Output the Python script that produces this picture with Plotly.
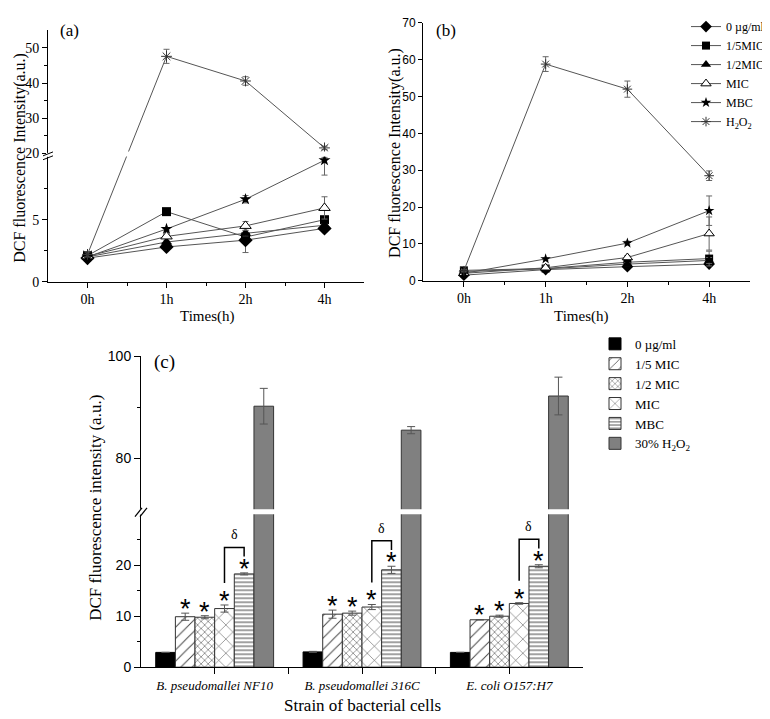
import plotly.graph_objects as go

W, H = 770, 719
SERIF = "Liberation Serif, Times New Roman, Times, serif"
SANS = "Liberation Sans, Arial, sans-serif"

# ---------------- data ----------------
times = ["0h", "1h", "2h", "4h"]
line_names = ["0 µg/ml", "1/5MIC", "1/2MIC", "MIC", "MBC", "H<sub>2</sub>O<sub>2</sub>"]

# panel (a)
a_ctrl = [1.9, 2.8, 3.35, 4.3]
a_ctrl_err = [0.1, 0.12, 1.0, 0.12]
a_fifth = [2.1, 5.65, 3.6, 5.0]
a_fifth_err = [0.1, 0.25, 0.1, 0.15]
a_half = [2.0, 3.2, 3.9, 4.55]
a_half_err = [0.1, 0.1, 0.2, 0.1]
a_mic = [2.05, 3.65, 4.5, 5.95]
a_mic_err = [0.1, 0.15, 0.35, 0.9]
a_mbc = [2.0, 4.25, 6.65, 9.8]
a_mbc_err = [0.1, 0.1, 0.3, 1.2]
a_h2o2 = [2.2, 47.6, 40.6, 21.6]
a_h2o2_err = [0.2, 2.0, 1.2, 0.5]

# panel (b)
b_ctrl = [1.5, 3.0, 3.8, 4.5]
b_ctrl_err = [0.2, 0.3, 0.4, 0.5]
b_fifth = [2.8, 3.3, 5.0, 6.0]
b_fifth_err = [0.3, 0.3, 0.5, 2.0]
b_half = [2.5, 3.2, 4.5, 5.5]
b_half_err = [0.2, 0.3, 0.4, 0.8]
b_mic = [2.0, 3.5, 6.3, 12.8]
b_mic_err = [0.2, 0.5, 0.5, 4.5]
b_mbc = [2.0, 5.9, 10.2, 19.0]
b_mbc_err = [0.2, 0.3, 0.5, 4.0]
b_h2o2 = [2.7, 58.8, 52.0, 28.5]
b_h2o2_err = [0.3, 2.0, 2.2, 1.3]

# panel (c)
strains = ["B. pseudomallei NF10", "B. pseudomallei 316C", "E. coli O157:H7"]
bar_names = ["0 µg/ml", "1/5 MIC", "1/2 MIC", "MIC", "MBC", "30% H<sub>2</sub>O<sub>2</sub>"]
c_ctrl = [2.9, 3.0, 2.9]
c_ctrl_err = [0.0, 0.1, 0.0]
c_fifth = [9.9, 10.4, 9.3]
c_fifth_err = [0.7, 0.8, 0.05]
c_half = [9.8, 10.6, 10.0]
c_half_err = [0.3, 0.4, 0.2]
c_mic = [11.5, 11.8, 12.5]
c_mic_err = [0.7, 0.5, 0.15]
c_mbc = [18.3, 19.1, 19.8]
c_mbc_err = [0.2, 0.7, 0.3]
c_h2o2 = [90.2, 85.5, 92.2]
c_h2o2_err = [3.5, 0.7, 3.7]

# ---------------- broken-axis transforms ----------------
A_UP0, A_K = 10.34, 0.2842


def ta(v):
    if v <= 10:
        return v
    if v >= 20:
        return A_UP0 + (v - 20) * A_K
    return 10 + (v - 10) * (A_UP0 - 10) / 10


C_UP0 = 31.0


def tc(v):
    if v <= 30:
        return v
    if v >= 70:
        return C_UP0 + (v - 70)
    return 30 + (v - 30) * (C_UP0 - 30) / 40


def disp(t, vals, errs):
    y = [t(v) for v in vals]
    plus = [t(v + e) - t(v) for v, e in zip(vals, errs)]
    minus = [t(v) - t(v - e) for v, e in zip(vals, errs)]
    return y, plus, minus


def px(x):
    return x / W


def py(y):
    return 1 - y / H


fig = go.Figure()

xi = list(range(len(times)))

marker_specs = [
    dict(symbol="diamond", color="black"),
    dict(symbol="square", color="black"),
    dict(symbol="triangle-up", color="black"),
    dict(symbol="triangle-up", color="white", line=dict(color="black", width=1)),
    dict(symbol="star", color="black"),
    dict(symbol="asterisk-open", color="#333", line=dict(color="#333", width=1)),
]
a_sizes = [11, 9, 10, 10, 9, 9]
b_sizes = [9, 8, 9, 9, 8, 8]

a_series = [(a_ctrl, a_ctrl_err), (a_fifth, a_fifth_err), (a_half, a_half_err),
            (a_mic, a_mic_err), (a_mbc, a_mbc_err), (a_h2o2, a_h2o2_err)]
b_series = [(b_ctrl, b_ctrl_err), (b_fifth, b_fifth_err), (b_half, b_half_err),
            (b_mic, b_mic_err), (b_mbc, b_mbc_err), (b_h2o2, b_h2o2_err)]

for k, (vals, errs) in enumerate(a_series):
    y, p, m = disp(ta, vals, errs)
    mk = dict(marker_specs[k])
    mk["size"] = a_sizes[k]
    fig.add_trace(go.Scatter(
        x=xi, y=y, mode="lines+markers", xaxis="x", yaxis="y",
        line=dict(color="#555", width=1), marker=mk, showlegend=False,
        error_y=dict(type="data", array=p, arrayminus=m, color="#666", thickness=1, width=3),
        cliponaxis=False,
    ))

for k, (vals, errs) in enumerate(b_series):
    mk = dict(marker_specs[k])
    mk["size"] = b_sizes[k]
    fig.add_trace(go.Scatter(
        x=xi, y=vals, mode="lines+markers", xaxis="x2", yaxis="y2",
        name=line_names[k], legend="legend",
        line=dict(color="#555", width=1), marker=mk,
        error_y=dict(type="data", array=errs, color="#666", thickness=1, width=3),
        cliponaxis=False,
    ))

# ---- panel (c) bars ----
c_series = [(c_ctrl, c_ctrl_err), (c_fifth, c_fifth_err), (c_half, c_half_err),
            (c_mic, c_mic_err), (c_mbc, c_mbc_err), (c_h2o2, c_h2o2_err)]
bar_styles = [
    dict(color="black", line=dict(color="black", width=1)),
    dict(color="white", line=dict(color="#333", width=1),
         pattern=dict(shape="/", fgcolor="#444", bgcolor="white", size=8, solidity=0.12, fillmode="replace")),
    dict(color="white", line=dict(color="#333", width=1),
         pattern=dict(shape="x", fgcolor="#444", bgcolor="white", size=5, solidity=0.2, fillmode="replace")),
    dict(color="white", line=dict(color="#333", width=1),
         pattern=dict(shape="x", fgcolor="#444", bgcolor="white", size=10, solidity=0.1, fillmode="replace")),
    dict(color="white", line=dict(color="#333", width=1),
         pattern=dict(shape="-", fgcolor="#444", bgcolor="white", size=4, solidity=0.25, fillmode="replace")),
    dict(color="#808080", line=dict(color="#333", width=1)),
]
gi = list(range(len(strains)))
for k, (vals, errs) in enumerate(c_series):
    y, p, m = disp(tc, vals, errs)
    fig.add_trace(go.Bar(
        x=gi, y=y, xaxis="x3", yaxis="y3", name=bar_names[k], legend="legend2",
        marker=bar_styles[k],
        error_y=dict(type="data", array=p, arrayminus=m, color="#555", thickness=1, width=4),
    ))

NB = len(c_series)
BW = 0.8 / NB


def off(i):
    return -0.4 + (i + 0.5) * BW


annotations = []
shapes = []

# stars
for i in [1, 2, 3, 4]:
    vals, errs = c_series[i]
    for g in gi:
        annotations.append(dict(
            x=g + off(i), y=tc(vals[g] + errs[g]) + 2.0, xref="x3", yref="y3",
            text="*", showarrow=False, yanchor="middle", yshift=-6,
            font=dict(family=SANS, size=27, color="black")))

# delta brackets
for g in gi:
    xl, xr = g + off(3), g + off(4)
    mic_top = c_mic[g] + c_mic_err[g]
    mbc_top = c_mbc[g] + c_mbc_err[g]
    ytop = mbc_top + 5.0
    yl = mic_top + 4.3
    yr = mbc_top + 3.2
    shapes.append(dict(type="path", xref="x3", yref="y3",
                       path=f"M{xl},{yl} L{xl},{ytop} L{xr},{ytop} L{xr},{yr}",
                       line=dict(color="black", width=1.5)))
    annotations.append(dict(x=(xl + xr) / 2, y=ytop + 0.6, xref="x3", yref="y3",
                            text="δ", showarrow=False, yanchor="bottom",
                            font=dict(family=SERIF, size=14, color="black")))

# break gaps
shapes.append(dict(type="rect", xref="x domain", yref="y", x0=0.006, x1=1.0,
                   y0=10.1, y1=10.5, fillcolor="white", line=dict(width=0), layer="above"))
shapes.append(dict(type="rect", xref="x3 domain", yref="y3", x0=0.004, x1=1.0,
                   y0=30.0, y1=C_UP0, fillcolor="white", line=dict(width=0), layer="above"))

# axis break marks (a)
shapes.append(dict(type="rect", xref="paper", yref="paper", x0=px(38), x1=px(42),
                   y0=py(144), y1=py(140), fillcolor="white", line=dict(width=0), layer="above"))
for dy in (0, 4):
    shapes.append(dict(type="line", xref="paper", yref="paper",
                       x0=px(35), y0=py(143 + dy), x1=px(45), y1=py(139 + dy),
                       line=dict(color="black", width=1), layer="above"))
# axis break marks (c)
shapes.append(dict(type="rect", xref="paper", yref="paper", x0=px(131), x1=px(135),
                   y0=py(510), y1=py(504), fillcolor="white", line=dict(width=0), layer="above"))
for dx in (0, 5):
    shapes.append(dict(type="line", xref="paper", yref="paper",
                       x0=px(127 + dx), y0=py(512), x1=px(134 + dx), y1=py(503),
                       line=dict(color="black", width=1.2), layer="above"))


def ann(x, y, text, size, family=SERIF, angle=0, **kw):
    d = dict(x=px(x), y=py(y), xref="paper", yref="paper", text=text, showarrow=False,
             font=dict(family=family, size=size, color="black"), textangle=angle,
             xanchor="center", yanchor="middle")
    d.update(kw)
    annotations.append(d)


ann(61, 15, "(a)", 17)
ann(438, 15, "(b)", 17)
ann(156, 354, "(c)", 19)
ann(199, 307, "Times(h)", 15)
ann(573, 307, "Times(h)", 15)
ann(12, 145, "DCF fluorescence Intensity(a.u.)", 16, angle=-90)
ann(387, 140, "DCF fluorescence Intensity(a.u.)", 16, angle=-90)
ann(88, 503, "DCF fluorescence intensity (a.u.)", 17, angle=-90)
ann(354, 705, "Strain of bacterial cells", 17)

axis_common = dict(showline=True, linecolor="black", linewidth=1, showgrid=False,
                   zeroline=False, ticks="outside", tickcolor="black", tickwidth=1)

a_major = [0, 5, 20, 30, 40, 50]
a_minor = [2.5, 7.5, 25, 35, 45]
c_major = [0, 10, 20, 80, 100]
c_minor = [5, 15, 25, 90]

fig.update_layout(
    width=W, height=H, margin=dict(l=0, r=0, t=0, b=0),
    paper_bgcolor="white", plot_bgcolor="white",
    font=dict(family=SERIF, color="black"),
    barmode="group", bargap=0.2, bargroupgap=0,
    xaxis=dict(**axis_common, domain=[px(40), px(356)], range=[-0.5, 3.5], anchor="y",
               tickvals=xi, ticktext=times, ticklen=5,
               tickfont=dict(family=SERIF, size=14, color="black"),
               minor=dict(tickvals=[0.5, 1.5, 2.5], ticks="outside", ticklen=3, tickcolor="black")),
    yaxis=dict(**axis_common, domain=[py(271.7), py(14.6)], range=[0, ta(55)], anchor="x",
               tickvals=[ta(v) for v in a_major], ticktext=[str(v) for v in a_major], ticklen=5,
               tickfont=dict(family=SERIF, size=14, color="black"),
               minor=dict(tickvals=[ta(v) for v in a_minor], ticks="outside", ticklen=3, tickcolor="black")),
    xaxis2=dict(**axis_common, domain=[px(415), px(742)], range=[-0.5, 3.5], anchor="y2",
                tickvals=xi, ticktext=times, ticklen=5,
                tickfont=dict(family=SERIF, size=14, color="black"),
                minor=dict(tickvals=[0.5, 1.5, 2.5], ticks="outside", ticklen=3, tickcolor="black")),
    yaxis2=dict(**axis_common, domain=[py(270.7), py(7)], range=[0, 70], anchor="x2",
                dtick=10, ticklen=4, tickfont=dict(family=SANS, size=12, color="black")),
    xaxis3=dict(**axis_common, domain=[px(133), px(575)], range=[-0.5, 2.5], anchor="y3",
                tickvals=gi, ticktext=[f"<i>{s}</i>" for s in strains], ticklen=6,
                tickfont=dict(family=SERIF, size=13, color="black"),
                minor=dict(tickvals=[0.5, 1.5], ticks="outside", ticklen=6, tickcolor="black")),
    yaxis3=dict(**axis_common, domain=[py(666), py(348)], range=[0, tc(100)], anchor="x3",
                tickvals=[tc(v) for v in c_major], ticktext=[str(v) for v in c_major], ticklen=6,
                tickfont=dict(family=SANS, size=14, color="black"),
                minor=dict(tickvals=[tc(v) for v in c_minor], ticks="outside", ticklen=3, tickcolor="black")),
    legend=dict(x=px(678), y=py(-4), xanchor="left", yanchor="top",
                font=dict(family=SERIF, size=12, color="black"),
                bgcolor="rgba(0,0,0,0)", borderwidth=0, itemwidth=30, tracegroupgap=0),
    legend2=dict(x=px(587), y=py(320), xanchor="left", yanchor="top",
                 font=dict(family=SERIF, size=13, color="black"),
                 bgcolor="rgba(0,0,0,0)", borderwidth=0, itemwidth=30, tracegroupgap=0),
    annotations=annotations, shapes=shapes,
)

fig.write_html("out.html")
